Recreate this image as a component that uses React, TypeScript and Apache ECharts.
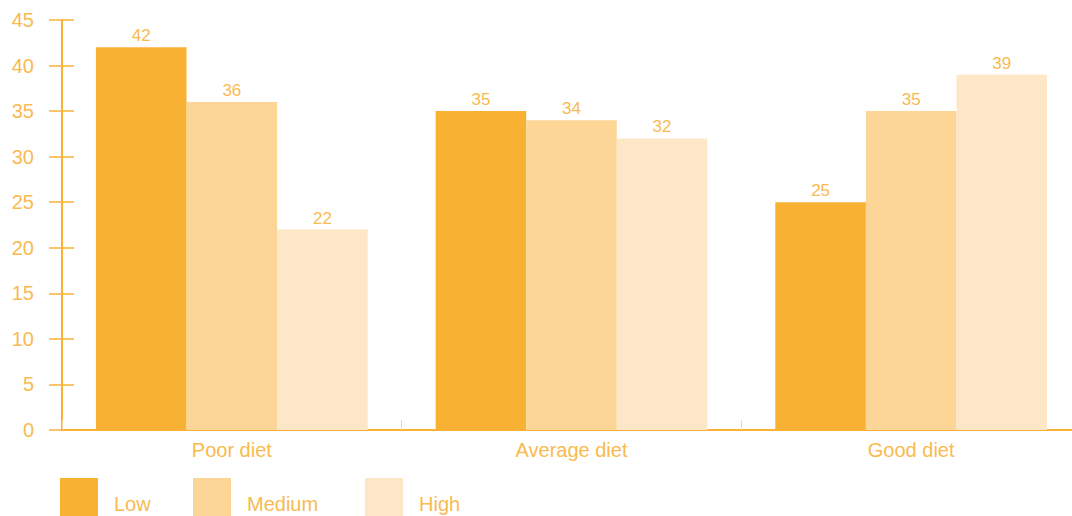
import React, { useEffect, useRef } from "react";
import * as echarts from "echarts";

const categories = ["Poor diet", "Average diet", "Good diet"];
const seriesNames = ["Low", "Medium", "High"];
const lowValues = [42, 35, 25];
const mediumValues = [36, 34, 35];
const highValues = [22, 32, 39];
const colors = ["#F9B133", "#FDD597", "#FEE7C7"];

const axisColor = "#F9B233";
const textColor = "#F9BA50";
const font = "'Liberation Sans', Helvetica, Arial, sans-serif";

export default function App() {
  const ref = useRef<HTMLDivElement>(null);
  useEffect(() => {
    if (!ref.current) return;
    const chart = echarts.init(ref.current, null, { renderer: "svg" });
    const values = [lowValues, mediumValues, highValues];
    const legendLefts = [60, 193, 365];
    chart.setOption({
      animation: false,
      grid: { left: 62, width: 1019, top: 20, bottom: 86, containLabel: false, outerBoundsMode: "none" },
      legend: seriesNames.map((n, i) => ({
        data: [n],
        left: legendLefts[i],
        top: 478,
        padding: 0,
        itemWidth: 38,
        itemHeight: 52,
        icon: "rect",
        selectedMode: false,
        textStyle: { color: textColor, fontSize: 20, fontFamily: font, padding: [0, 0, 0, 11] },
      })),
      xAxis: {
        type: "category",
        data: categories,
        axisLine: { lineStyle: { color: axisColor, width: 2 } },
        axisTick: { show: true, inside: true, length: 10, lineStyle: { color: "#FDD597", width: 1 } },
        axisLabel: { color: textColor, fontSize: 20, fontFamily: font, margin: 10 },
      },
      yAxis: [
        {
          type: "value",
          min: 0,
          max: 45,
          interval: 5,
          axisLine: { show: true, lineStyle: { color: axisColor, width: 2 } },
          axisTick: { show: true, length: 13, lineStyle: { color: axisColor, width: 1.5 } },
          axisLabel: { color: textColor, fontSize: 20, fontFamily: font, margin: 28, padding: [6, 0, 0, 0] },
          splitLine: { show: false },
        },
        {
          type: "value",
          position: "left",
          min: 0,
          max: 45,
          interval: 5,
          axisLine: { show: false },
          axisTick: { show: true, inside: true, length: 12, lineStyle: { color: axisColor, width: 1.5 } },
          axisLabel: { show: false },
          splitLine: { show: false },
        },
      ],
      series: seriesNames.map((n, i) => ({
        name: n,
        type: "bar",
        data: values[i],
        barGap: "0%",
        barCategoryGap: "20%",
        itemStyle: { color: colors[i] },
        label: {
          show: true,
          position: "top",
          distance: 3,
          color: textColor,
          fontSize: 17,
          fontFamily: font,
        },
      })),
    });
    return () => chart.dispose();
  }, []);
  return (
    <div
      ref={ref}
      style={{ position: "fixed", left: 0, top: 0, width: 1100, height: 516, background: "#fff" }}
    />
  );
}
